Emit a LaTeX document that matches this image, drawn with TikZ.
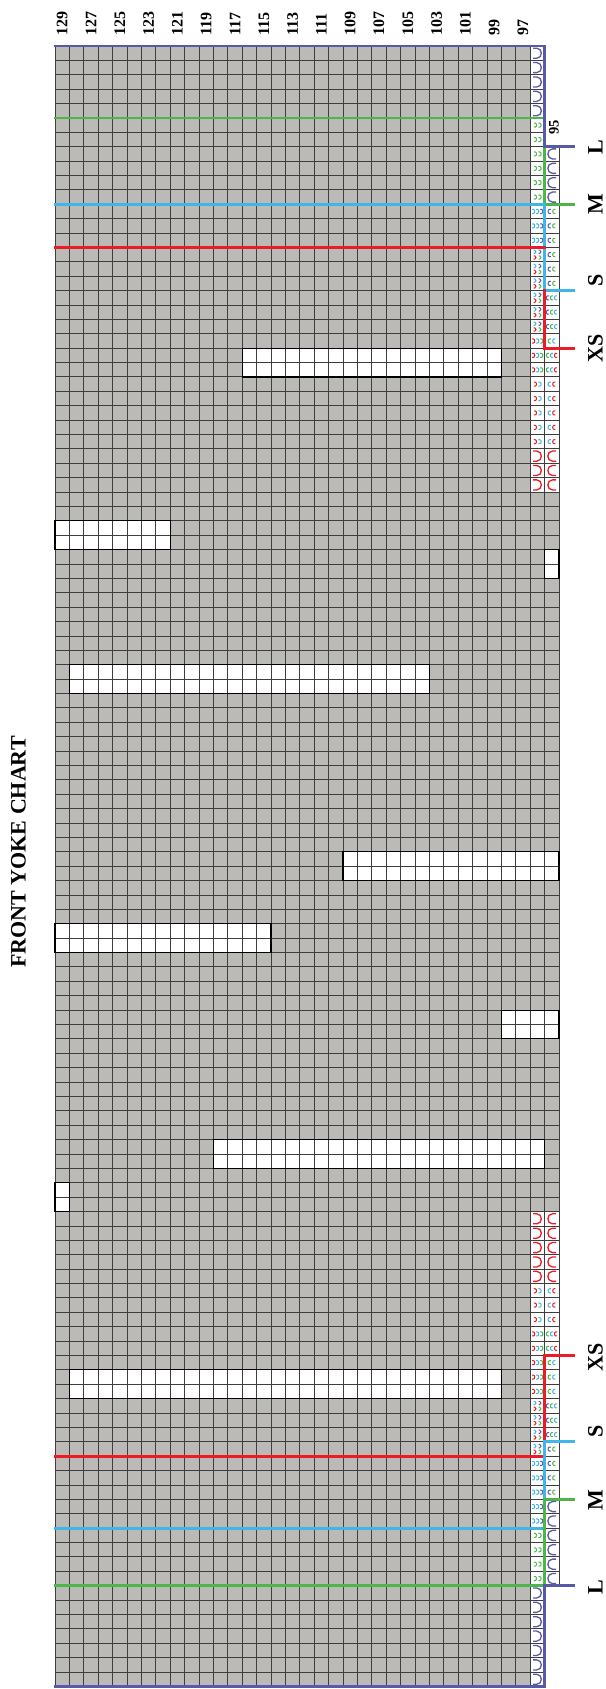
\documentclass[tikz,border=0pt]{standalone}
\usepackage{fontspec}
\setmainfont{Liberation Serif}
\definecolor{cellgray}{RGB}{188,186,183}
\definecolor{gridc}{RGB}{62,62,62}
\definecolor{szL}{RGB}{88,90,168}
\definecolor{szM}{RGB}{77,182,72}
\definecolor{szS}{RGB}{64,182,232}
\definecolor{szXS}{RGB}{237,28,36}
\tikzset{
  gridln/.style={draw=gridc, line width=0.95pt},
  sizeline/.style={line width=2.8pt, line cap=rect, line join=miter},
  rowlab/.style={rotate=90, anchor=west, inner sep=0pt, font=\fontsize{16}{16}\selectfont\bfseries},
  sizelab/.style={rotate=90, anchor=center, inner sep=0pt, font=\fontsize{22}{22}\selectfont\bfseries},
  bigR/.pic={\draw[line width=1.3pt] (0.2,0.15) -- (0.45,0.15) .. controls (0.88,0.15) and (0.88,0.85) .. (0.45,0.85) -- (0.2,0.85);},
  bigL/.pic={\draw[line width=1.3pt] (0.8,0.15) -- (0.55,0.15) .. controls (0.12,0.15) and (0.12,0.85) .. (0.55,0.85) -- (0.8,0.85);},
  smR/.pic={\draw[line width=1pt] (-0.09,-0.14) -- (0,-0.14) .. controls (0.13,-0.14) and (0.13,0.14) .. (0,0.14) -- (-0.09,0.14);},
  smL/.pic={\draw[line width=1pt] (0.09,-0.14) -- (0,-0.14) .. controls (-0.13,-0.14) and (-0.13,0.14) .. (0,0.14) -- (0.09,0.14);}
}
\begin{document}
\begin{tikzpicture}[x=1pt,y=-1pt]
\useasboundingbox (0,0) rectangle (605,1689);
\fill[white] (0,0) rectangle (605,1689);
% title and labels
\node[rotate=90, inner sep=0pt, font=\fontsize{22}{22}\selectfont\bfseries] (title) at (18.5,852) {FRONT YOKE CHART};
\foreach \n [count=\i from 0] in {129,127,...,97}
  \node[rowlab] (r\n) at ({62.2+28.8*\i},36) {\n};
\node[rowlab, font=\fontsize{14.5}{14.5}\selectfont\bfseries] (r95) at (554,135) {95};
\node[sizelab] (Ltop) at (595.5,147) {L};
\node[sizelab] (Mtop) at (595.5,204) {M};
\node[sizelab] (Stop) at (595.5,280) {S};
\node[sizelab] (XStop) at (595.5,348) {XS};
\node[sizelab] (XSbot) at (595.5,1357) {XS};
\node[sizelab] (Sbot) at (595.5,1431) {S};
\node[sizelab] (Mbot) at (595.5,1500) {M};
\node[sizelab] (Lbot) at (595.5,1587) {L};
\begin{scope}[shift={(55,46)}, x=14.4pt, y=-14.39pt]
  % cells
  \fill[cellgray] (0,0) rectangle (34,114);
  \fill[cellgray] (34,7) rectangle (35,107);
  \foreach \c/\k/\w in {13/21/18, 0/33/8, 34/35/1, 1/43/25, 20/56/15, 0/61/15, 31/67/4, 11/76/23, 0/79/1, 1/92/30}
    \fill[white] (\c,\k) rectangle ++(\w,2);
  \fill[white] (33,0) rectangle (34,31);
  \fill[white] (34,7) rectangle (35,31);
  \fill[white] (33,81) rectangle (34,114);
  \fill[white] (34,81) rectangle (35,107);
  % grid
  \foreach \c in {0,...,34} \draw[gridln] (\c,0) -- (\c,114);
  \foreach \k in {0,...,114} \draw[gridln] (0,\k) -- (34,\k);
  \foreach \k in {7,...,107} \draw[gridln] (34,\k) -- (35,\k);
  \draw[gridln] (35,7) -- (35,107);
  \foreach \c/\k/\w in {13/21/18, 0/33/8, 34/35/1, 1/43/25, 20/56/15, 0/61/15, 31/67/4, 11/76/23, 0/79/1, 1/92/30}
    \draw[black, line width=1.1pt] (\c,\k) rectangle ++(\w,2);
  % symbols
  \foreach \k in {0,...,4,107,108,...,113} \pic[szL] at (33,\k) {bigR};
  \foreach \k in {7,...,10,101,102,...,106} \pic[szL] at (34,\k) {bigL};
  \foreach \k in {28,29,30,81,82,...,85} {\pic[szXS] at (33,\k) {bigR}; \pic[szXS] at (34,\k) {bigL};}
  \foreach \k in {5,...,10,103,104,105,106} {
    \pic[szM] at (33.34,\k+0.5) {smR}; \pic[szM] at (33.66,\k+0.5) {smR};}
  \foreach \k in {11,12,13,98,99,...,102} {
    \pic[szS] at (33.22,\k+0.5) {smR}; \pic[szS] at (33.5,\k+0.5) {smR}; \pic[szL] at (33.78,\k+0.5) {smR};}
  \foreach \k in {11,...,16,97,98,99,100} {
    \pic[szL] at (34.34,\k+0.5) {smL}; \pic[szM] at (34.66,\k+0.5) {smL};}
  \foreach \k in {14,...,19,94,95,96,97} {
    \pic[szS, scale=0.85] at (33.32,\k+0.3) {smR}; \pic[szL, scale=0.85] at (33.66,\k+0.3) {smR};
    \pic[szXS, scale=0.85] at (33.32,\k+0.7) {smR}; \pic[szM, scale=0.85] at (33.66,\k+0.7) {smR};}
  \foreach \k in {17,18,19,94,95,96} {
    \pic[szL] at (34.22,\k+0.5) {smL}; \pic[szM] at (34.5,\k+0.5) {smL}; \pic[szS] at (34.78,\k+0.5) {smL};}
  \foreach \k in {20,91,92,93} {
    \pic[szXS] at (33.22,\k+0.5) {smR}; \pic[szS] at (33.5,\k+0.5) {smR}; \pic[szM] at (33.78,\k+0.5) {smR};
    \pic[szM] at (34.34,\k+0.5) {smL}; \pic[szS] at (34.66,\k+0.5) {smL};}
  \foreach \k in {21,22,89,90} {
    \pic[szXS] at (33.22,\k+0.5) {smR}; \pic[szS] at (33.5,\k+0.5) {smR}; \pic[szM] at (33.78,\k+0.5) {smR};
    \pic[szM] at (34.22,\k+0.5) {smL}; \pic[szS] at (34.5,\k+0.5) {smL}; \pic[szXS] at (34.78,\k+0.5) {smL};}
  \foreach \k in {23,...,27,86,87,88} {
    \pic[szXS] at (33.34,\k+0.5) {smR}; \pic[szS] at (33.66,\k+0.5) {smR};
    \pic[szS] at (34.34,\k+0.5) {smL}; \pic[szXS] at (34.66,\k+0.5) {smL};}
  % size lines
  \draw[sizeline, szM] (0,5) -- (34,5);
  \draw[sizeline, szM] (34,7) -- (34,11) -- (36,11);
  \draw[sizeline, szS] (0,11) -- (34,11) -- (34,17) -- (36,17);
  \draw[sizeline, szXS] (0,14) -- (34,14);
  \draw[sizeline, szXS] (34,17) -- (34,21) -- (36,21);
  \draw[sizeline, szL] (0,0) -- (34,0) -- (34,7) -- (36,7);
  \draw[sizeline, szXS] (36,91) -- (34,91) -- (34,97);
  \draw[sizeline, szXS] (0,98) -- (34,98);
  \draw[sizeline, szS] (36,97) -- (34,97) -- (34,101);
  \draw[sizeline, szS] (0,103) -- (34,103);
  \draw[sizeline, szM] (36,101) -- (34,101) -- (34,107);
  \draw[sizeline, szM] (0,107) -- (34,107);
  \draw[sizeline, szL] (36,107) -- (34,107) -- (34,114) -- (0,114);
\end{scope}
\end{tikzpicture}
\end{document}
